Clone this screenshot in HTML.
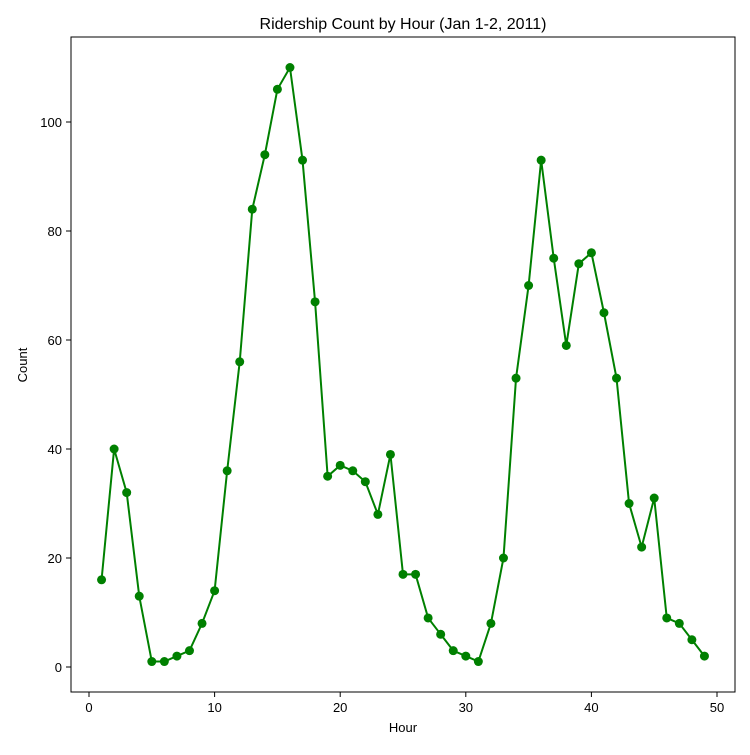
<!DOCTYPE html>
<html><head><meta charset="utf-8"><style>
body{margin:0;background:#fff;font-family:"Liberation Sans","DejaVu Sans",sans-serif}
</style></head><body>
<svg id="chart" width="750" height="750" xmlns="http://www.w3.org/2000/svg">
<rect width="750" height="750" fill="#fff"/>
<text x="403" y="29" text-anchor="middle" font-size="16">Ridership Count by Hour (Jan 1-2, 2011)</text>
<text x="403" y="732" text-anchor="middle" font-size="13">Hour</text>
<text x="27" y="365" text-anchor="middle" font-size="13" transform="rotate(-90 27 365)">Count</text>
<g id="axes"></g>
<g id="marks"></g>
<rect x="71" y="37" width="664" height="655" fill="none" stroke="#000" stroke-width="1"/>
</svg>
<script>
const hours = [];
for (let i = 1; i <= 49; i++) hours.push(i);
const counts = [16,40,32,13,1,1,2,3,8,14,36,56,84,94,106,110,93,67,35,37,36,34,28,39,17,17,9,6,3,2,1,8,20,53,70,93,75,59,74,76,65,53,30,22,31,9,8,5,2];
const xTicks = [0,10,20,30,40,50];
const yTicks = [0,20,40,60,80,100];
const NS = "http://www.w3.org/2000/svg";
function xs(v){ return 89 + v * (717 - 89) / 50; }
function ys(v){ return 667 - v * (667 - 122) / 100; }
const axes = document.getElementById('axes');
const marks = document.getElementById('marks');
function mk(tag, attrs, parent){ const e = document.createElementNS(NS, tag); for (const k in attrs) e.setAttribute(k, attrs[k]); parent.appendChild(e); return e; }
xTicks.forEach(t => {
  const l = mk('line', {x1: xs(t), x2: xs(t), y1: 692, y2: 697, stroke: '#000'}, axes);
  
  
  const tx = mk('text', {x: xs(t), y: 712, 'text-anchor': 'middle', 'font-size': 13}, axes);
  tx.textContent = t;
  
  
});
yTicks.forEach(t => {
  const l = mk('line', {x1: 66, x2: 71, y1: ys(t), y2: ys(t), stroke: '#000'}, axes);
  
  
  const tx = mk('text', {x: 62, y: ys(t) + 5, 'text-anchor': 'end', 'font-size': 13}, axes);
  tx.textContent = t;
  
  
});
const pts = hours.map((h, i) => xs(h) + ',' + ys(counts[i])).join(' ');
const line = mk('polyline', {points: pts, fill: 'none', stroke: 'green', 'stroke-width': 2}, marks);


hours.forEach((h, i) => {
  const c = mk('circle', {cx: xs(h), cy: ys(counts[i]), r: 4.5, fill: 'green'}, marks);
  
  
});
</script>
</body></html>
